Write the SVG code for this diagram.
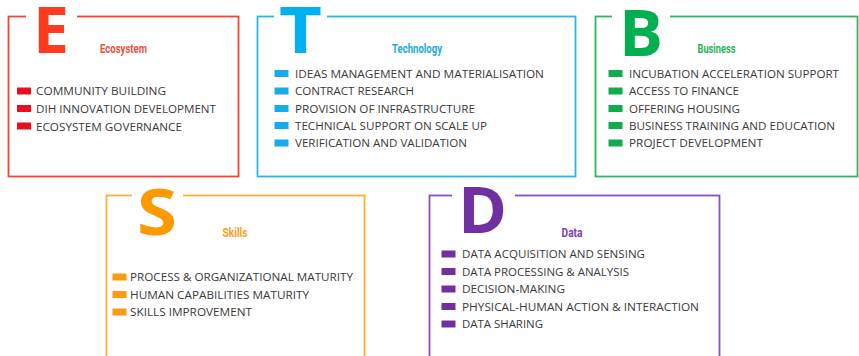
<svg xmlns="http://www.w3.org/2000/svg" width="859" height="356" viewBox="0 0 859 356">
<style>
.bg{fill:#ffffff}
.frame{fill:none;stroke-width:1.8}
.gap{fill:#ffffff}
.big{font-family:"Open Sans","DejaVu Sans",sans-serif;font-weight:700;font-size:65px}
.lbl{font-family:Roboto,"Liberation Sans",sans-serif;font-weight:700;font-size:12.5px}
.item{font-family:"Open Sans","DejaVu Sans",sans-serif;font-size:11.5px;fill:#3a3a3a}
.e{stroke:#F4432F}.e-f{fill:#FF3A1F}.e-l{fill:#F0503C}.e-s{fill:#E8101C}
.t{stroke:#2AB4EC}.t-f{fill:#00B0F0}.t-l{fill:#1CA9E1}.t-s{fill:#16ACEB}
.b{stroke:#2DB860}.b-f{fill:#00B050}.b-l{fill:#2BB35A}.b-s{fill:#12AA4E}
.s{stroke:#FFAE2E}.s-f{fill:#FF9900}.s-l{fill:#FFA020}.s-s{fill:#FF9A10}
.d{stroke:#8A50BE}.d-f{fill:#7030A0}.d-l{fill:#8040B0}.d-s{fill:#7030A0}
</style>
<rect class="bg" x="0" y="0" width="859" height="356"/>

<g id="node-ecosystem">
<rect class="frame e" x="8.5" y="16.5" width="230" height="160"/>
<rect class="gap" x="26" y="10" width="51" height="12"/>
<text class="big e-f" x="33" y="53" textLength="36" lengthAdjust="spacingAndGlyphs">E</text>
<text class="lbl e-l" x="100" y="53" textLength="47" lengthAdjust="spacingAndGlyphs">Ecosystem</text>
<rect class="e-s" x="17" y="87.5" width="14" height="7"/>
<text class="item" x="36" y="95" textLength="130" lengthAdjust="spacingAndGlyphs">COMMUNITY BUILDING</text>
<rect class="e-s" x="17" y="105" width="14" height="7"/>
<text class="item" x="36" y="113" textLength="180" lengthAdjust="spacingAndGlyphs">DIH INNOVATION DEVELOPMENT</text>
<rect class="e-s" x="17" y="122.5" width="14" height="7"/>
<text class="item" x="36" y="130.5" textLength="146" lengthAdjust="spacingAndGlyphs">ECOSYSTEM GOVERNANCE</text>
</g>

<g id="node-technology">
<rect class="frame t" x="257.5" y="16.5" width="318" height="160"/>
<rect class="gap" x="274" y="10" width="53" height="12"/>
<text class="big t-f" x="279" y="53" textLength="43" lengthAdjust="spacingAndGlyphs">T</text>
<text class="lbl t-l" x="392" y="53" textLength="50" lengthAdjust="spacingAndGlyphs">Technology</text>
<rect class="t-s" x="274.5" y="70" width="14" height="7"/>
<text class="item" x="295" y="77.5" textLength="249" lengthAdjust="spacingAndGlyphs">IDEAS MANAGEMENT AND MATERIALISATION</text>
<rect class="t-s" x="274.5" y="87.5" width="14" height="7"/>
<text class="item" x="295" y="95" textLength="119" lengthAdjust="spacingAndGlyphs">CONTRACT RESEARCH</text>
<rect class="t-s" x="274.5" y="105" width="14" height="7"/>
<text class="item" x="295" y="112.5" textLength="180" lengthAdjust="spacingAndGlyphs">PROVISION OF INFRASTRUCTURE</text>
<rect class="t-s" x="274.5" y="122" width="14" height="7"/>
<text class="item" x="295" y="129.5" textLength="192" lengthAdjust="spacingAndGlyphs">TECHNICAL SUPPORT ON SCALE UP</text>
<rect class="t-s" x="274.5" y="139.5" width="14" height="7"/>
<text class="item" x="295" y="147" textLength="172" lengthAdjust="spacingAndGlyphs">VERIFICATION AND VALIDATION</text>
</g>

<g id="node-business">
<rect class="frame b" x="595.5" y="16.5" width="262" height="160"/>
<rect class="gap" x="612" y="10" width="58" height="12"/>
<text class="big b-f" x="619" y="56" textLength="44" lengthAdjust="spacingAndGlyphs">B</text>
<text class="lbl b-l" x="697.5" y="53" textLength="38" lengthAdjust="spacingAndGlyphs">Business</text>
<rect class="b-s" x="608.5" y="70" width="14" height="7"/>
<text class="item" x="629" y="77.5" textLength="210" lengthAdjust="spacingAndGlyphs">INCUBATION ACCELERATION SUPPORT</text>
<rect class="b-s" x="608.5" y="87.5" width="14" height="7"/>
<text class="item" x="629" y="95" textLength="110" lengthAdjust="spacingAndGlyphs">ACCESS TO FINANCE</text>
<rect class="b-s" x="608.5" y="105" width="14" height="7"/>
<text class="item" x="629" y="112.5" textLength="111" lengthAdjust="spacingAndGlyphs">OFFERING HOUSING</text>
<rect class="b-s" x="608.5" y="122" width="14" height="7"/>
<text class="item" x="629" y="129.5" textLength="206" lengthAdjust="spacingAndGlyphs">BUSINESS TRAINING AND EDUCATION</text>
<rect class="b-s" x="608.5" y="139.5" width="14" height="7"/>
<text class="item" x="629" y="147" textLength="134" lengthAdjust="spacingAndGlyphs">PROJECT DEVELOPMENT</text>
</g>

<g id="node-skills">
<rect class="frame s" x="106.5" y="195.5" width="258" height="180"/>
<rect class="gap" x="132" y="189" width="51" height="12"/>
<text class="big s-f" x="137" y="235" textLength="40" lengthAdjust="spacingAndGlyphs">S</text>
<text class="lbl s-l" x="222.5" y="237" textLength="25" lengthAdjust="spacingAndGlyphs">Skills</text>
<rect class="s-s" x="112.5" y="273.5" width="14" height="7"/>
<text class="item" x="130" y="281" textLength="223" lengthAdjust="spacingAndGlyphs">PROCESS &amp; ORGANIZATIONAL MATURITY</text>
<rect class="s-s" x="112.5" y="291" width="14" height="7"/>
<text class="item" x="130" y="298.5" textLength="179" lengthAdjust="spacingAndGlyphs">HUMAN CAPABILITIES MATURITY</text>
<rect class="s-s" x="112.5" y="308.5" width="14" height="7"/>
<text class="item" x="130" y="316" textLength="122" lengthAdjust="spacingAndGlyphs">SKILLS IMPROVEMENT</text>
</g>

<g id="node-data">
<rect class="frame d" x="429.5" y="195.5" width="290" height="180"/>
<rect class="gap" x="452" y="189" width="63" height="12"/>
<text class="big d-f" x="458" y="233" textLength="49" lengthAdjust="spacingAndGlyphs">D</text>
<text class="lbl d-l" x="561.5" y="237" textLength="21" lengthAdjust="spacingAndGlyphs">Data</text>
<rect class="d-s" x="441.5" y="250.5" width="14" height="7"/>
<text class="item" x="462" y="258" textLength="183" lengthAdjust="spacingAndGlyphs">DATA ACQUISITION AND SENSING</text>
<rect class="d-s" x="441.5" y="268" width="14" height="7"/>
<text class="item" x="462" y="275.5" textLength="167" lengthAdjust="spacingAndGlyphs">DATA PROCESSING &amp; ANALYSIS</text>
<rect class="d-s" x="441.5" y="285.5" width="14" height="7"/>
<text class="item" x="462" y="293" textLength="103" lengthAdjust="spacingAndGlyphs">DECISION-MAKING</text>
<rect class="d-s" x="441.5" y="303" width="14" height="7"/>
<text class="item" x="462" y="310.5" textLength="237" lengthAdjust="spacingAndGlyphs">PHYSICAL-HUMAN ACTION &amp; INTERACTION</text>
<rect class="d-s" x="441.5" y="320.5" width="14" height="7"/>
<text class="item" x="462" y="328" textLength="81" lengthAdjust="spacingAndGlyphs">DATA SHARING</text>
</g>

<g id="connectors"></g>
</svg>
